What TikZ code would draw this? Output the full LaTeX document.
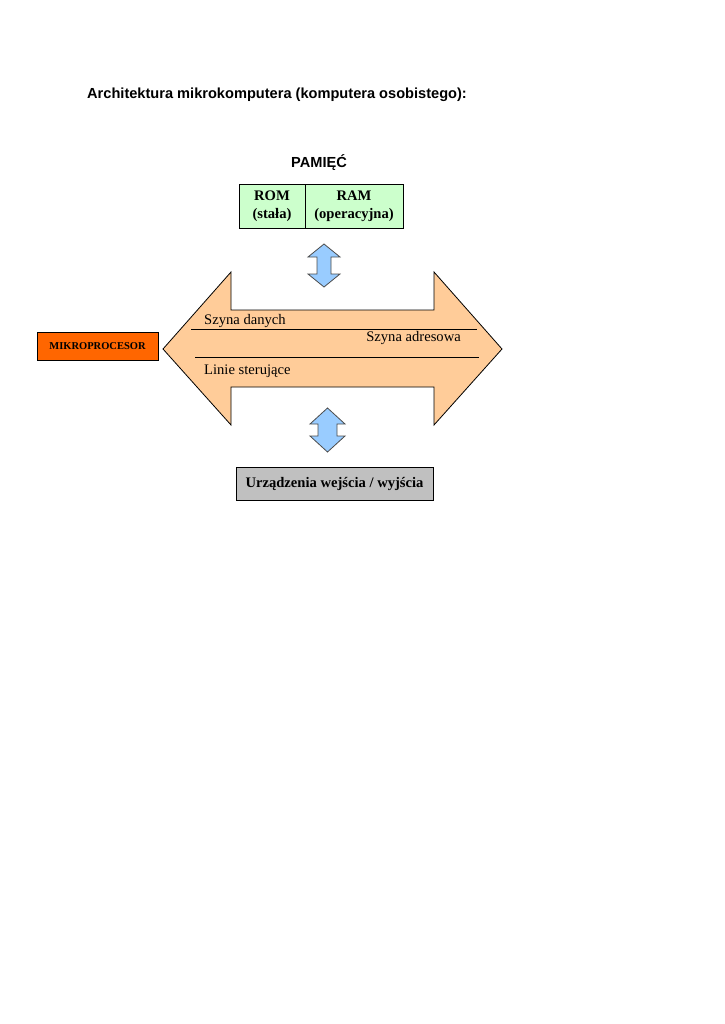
\documentclass[tikz,border=0pt]{standalone}
\usepackage{fontspec}
\setmainfont{Liberation Serif}
\setsansfont{Liberation Sans}
\usetikzlibrary{positioning}
\definecolor{memgreen}{HTML}{CCFFCC}
\definecolor{busorange}{HTML}{FFCC99}
\definecolor{cpuorange}{HTML}{FF6600}
\definecolor{linkblue}{HTML}{99CCFF}
\definecolor{iogray}{HTML}{C0C0C0}
\tikzstyle{unit}  = [
    draw,
    rectangle,
    inner sep=0pt,
    align=center,
    font=\fontsize{14.6}{17.5}\selectfont\bfseries
]
\tikzstyle{link}  = [
    draw=black!70,
    fill=linkblue,
    line width=0.8pt
]
\tikzstyle{bus}  = [
    draw=black,
    fill=busorange,
    line width=0.8pt
]
\tikzstyle{lbl}  = [
    inner sep=0pt,
    font=\fontsize{14.6}{16}\selectfont
]

\begin{document}
\begin{tikzpicture}[x=1pt, y=-1pt]
\useasboundingbox (0,0) rectangle (724,1024);

\node[anchor=west, inner sep=0pt, font=\sffamily\bfseries\fontsize{14.6}{16}\selectfont] (title) at (87,95) {Architektura mikrokomputera (komputera osobistego):};
\node[inner sep=0pt, font=\sffamily\bfseries\fontsize{14.6}{16}\selectfont] (pam) at (319,163) {PAMIĘĆ};

\node[unit, fill=memgreen, minimum width=66pt, minimum height=44pt] (rom) at (272,206) {\strut ROM\\\strut(stała)};
\node[unit, fill=memgreen, minimum width=98pt, minimum height=44pt] (ram) at (354,206) {\strut RAM\\\strut(operacyjna)};

% szyna systemowa
\draw[bus] (163,349) -- (231,272) -- (231,310) -- (434,310) -- (434,272) -- (502,349)
    -- (434,425) -- (434,387) -- (231,387) -- (231,425) -- cycle;
\coordinate (l1a) at (191,329);
\coordinate (l1b) at (477,329);
\coordinate (l2a) at (195,357);
\coordinate (l2b) at (479,357);
\draw[line width=0.6pt] (l1a) -- (l1b);
\draw[line width=0.6pt] (l2a) -- (l2b);
\node[lbl, anchor=west] (dane) at (204,321) {Szyna danych};
\node[lbl, anchor=east] (adres) at (461,338) {Szyna adresowa};
\node[lbl, anchor=west] (ster) at (204,371) {Linie sterujące};

\node[unit, fill=cpuorange, minimum width=121pt, minimum height=28pt, font=\fontsize{10.5}{12}\selectfont\bfseries] (cpu) at (97.5,346) {MIKROPROCESOR};

% polaczenia
\draw[link] (324,244) -- (340,257) -- (331,257) -- (331,274) -- (340,274) -- (324,287)
    -- (308,274) -- (317,274) -- (317,257) -- (308,257) -- cycle;
\draw[link] (327.5,408) -- (345,424) -- (337,424) -- (337,436) -- (345,436) -- (327.5,452)
    -- (310,436) -- (318,436) -- (318,424) -- (310,424) -- cycle;

\node[unit, fill=iogray, minimum width=197pt, minimum height=33pt] (io) at (334.5,483.5) {Urządzenia wejścia / wyjścia};

\end{tikzpicture}
\end{document}
